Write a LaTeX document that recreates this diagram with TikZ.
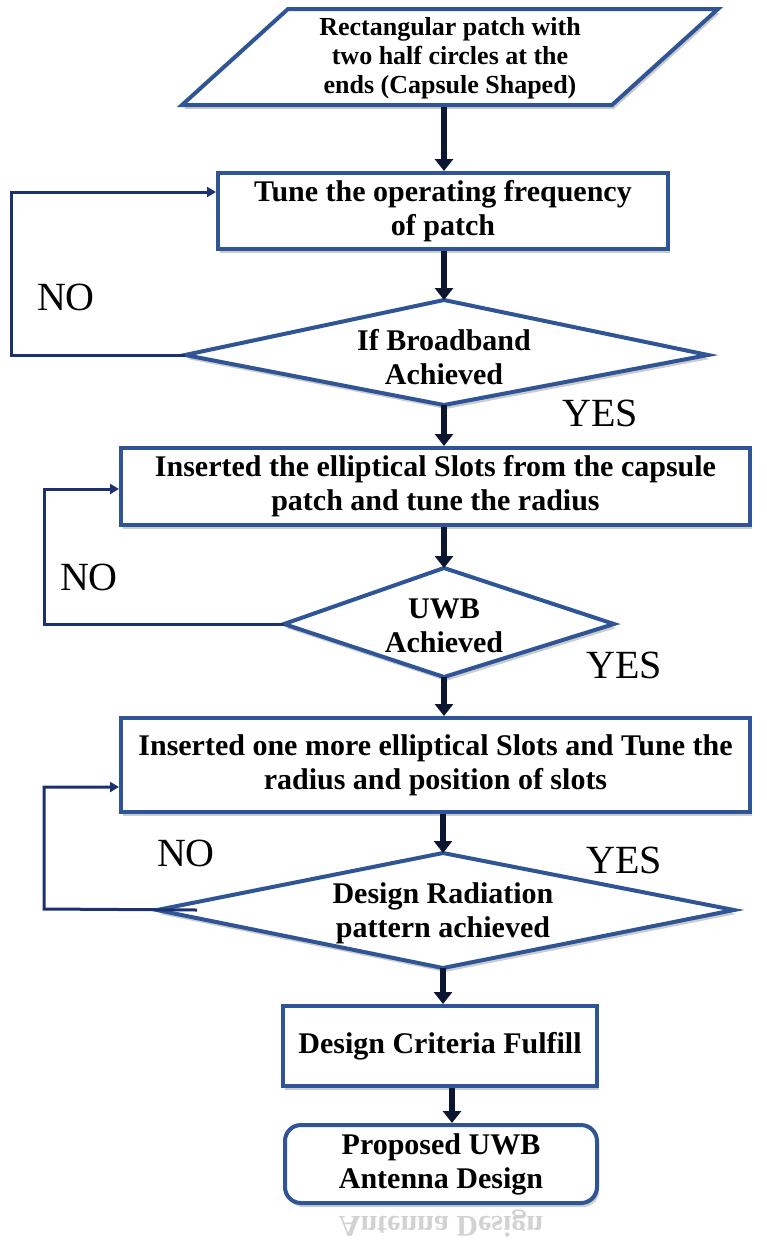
\documentclass[tikz,border=0pt]{standalone}
\usepackage{fontspec}
\setmainfont{Liberation Serif}
\usetikzlibrary{shadows,arrows.meta}
\definecolor{boxblue}{RGB}{47,85,151}
\definecolor{fbnavy}{RGB}{28,50,112}
\definecolor{arrnavy}{RGB}{12,22,48}
\begin{document}
\begin{tikzpicture}[x=1pt,y=-1pt,
  txt/.style={align=center, inner sep=0pt, font=\bfseries\fontsize{30}{34}\selectfont},
  box/.style={txt, draw=boxblue, line width=4pt, fill=white,
    drop shadow={shadow xshift=2pt, shadow yshift=-4pt, opacity=0.2, fill=black}},
  shapeline/.style={draw=boxblue, line width=4pt, fill=white, line join=miter,
    drop shadow={shadow xshift=2pt, shadow yshift=-4pt, opacity=0.2, fill=black}},
  flow/.style={draw=arrnavy, line width=6.5pt, -{Triangle[width=18pt,length=12pt]}},
  back/.style={draw=fbnavy, line width=3pt, -{Triangle[width=10pt,length=9pt]}},
  lab/.style={inner sep=0pt, font=\fontsize{40}{40}\selectfont}]
\useasboundingbox (0,0) rectangle (767,1243);

% start parallelogram
\path[shapeline] (288,9) -- (718,9) -- (612,105) -- (182,105) -- cycle;
\node[txt, font=\bfseries\fontsize{26}{29}\selectfont] (p0) at (450,58)
  {Rectangular patch with\\two half circles at the\\ends (Capsule Shaped)};
\coordinate (p0s) at (444,107);

% boxes
\node[box, minimum width=450, minimum height=76] (b1) at (443,211)
  {Tune the operating frequency\\of patch};
\node[box, minimum width=629, minimum height=77] (b2) at (435.5,486.5)
  {Inserted the elliptical Slots from the capsule\\patch and tune the radius};
\node[box, minimum width=629, minimum height=94] (b3) at (435.5,765)
  {Inserted one more elliptical Slots and Tune the\\radius and position of slots};
\node[box, minimum width=314, minimum height=80] (b4) at (440,1046)
  {Design Criteria Fulfill};
\node[box, rounded corners=16pt, minimum width=312, minimum height=78] (b5) at (441,1164)
  {Proposed UWB\\Antenna Design};

% diamonds
\coordinate (d1n) at (444,300); \coordinate (d1s) at (444,405);
\coordinate (d1w) at (185,355); \coordinate (d1e) at (708,355);
\path[shapeline] (d1n) -- (d1e) -- (d1s) -- (d1w) -- cycle;
\node[txt] (d1) at (444,357) {If Broadband\\Achieved};

\coordinate (d2n) at (444,568); \coordinate (d2s) at (444,677);
\coordinate (d2w) at (284,624); \coordinate (d2e) at (614,624);
\path[shapeline] (d2n) -- (d2e) -- (d2s) -- (d2w) -- cycle;
\node[txt] (d2) at (444,626) {UWB\\Achieved};

\coordinate (d3n) at (443,853); \coordinate (d3s) at (443,968);
\coordinate (d3w) at (157,910); \coordinate (d3e) at (734,910);
\path[shapeline] (d3n) -- (d3e) -- (d3s) -- (d3w) -- cycle;
\node[txt] (d3) at (443,913) {Design Radiation\\pattern achieved};

% main flow arrows
\draw[flow] (p0s) -- (p0s |- b1.north);
\draw[flow] (b1.south -| d1n) -- (d1n);
\draw[flow] (d1s) -- (d1s |- b2.north);
\draw[flow] (b2.south -| d2n) -- (d2n);
\draw[flow] (d2s) -- (d2s |- b3.north);
\draw[flow] (b3.south -| d3n) -- (d3n);
\draw[flow] (d3s) -- (d3s |- b4.north);
\draw[flow] ([xshift=12pt]b4.south) -- ([xshift=12pt]b4.south |- b5.north);

% feedback loops
\draw[back] (d1w) -- (11,355) -- (11,192) -- (b1.west |- 0,192);
\draw[back] (d2w) -- (44,624) -- (44,489) -- (b2.west |- 0,489);
\draw[back] ([xshift=40pt]d3w) -- (44,909) -- (44,787) -- (b3.west |- 0,787);

% labels
\node[lab] (no1) at (66,297) {NO};
\node[lab] (yes1) at (600,413) {YES};
\node[lab] (no2) at (89,577) {NO};
\node[lab] (yes2) at (624,665) {YES};
\node[lab] (no3) at (186,853) {NO};
\node[lab] (yes3) at (624,860) {YES};

% faint reflection
\node[txt, text=gray!35, yscale=-1, transform shape] (refl) at (441,1224) {Antenna Design};
\end{tikzpicture}
\end{document}
